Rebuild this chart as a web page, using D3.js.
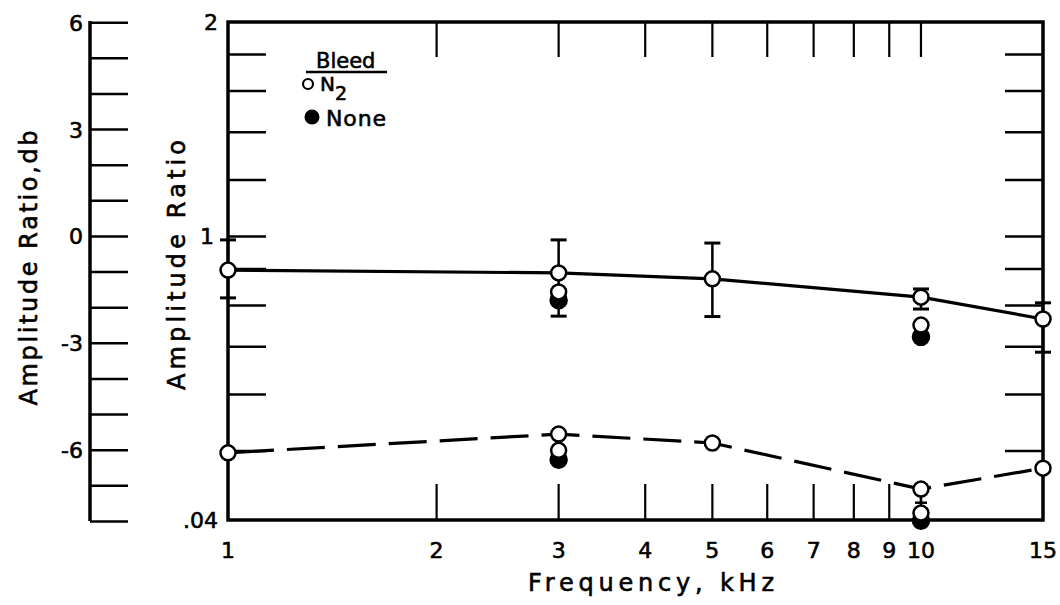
<!DOCTYPE html>
<html><head><meta charset="utf-8">
<script src="https://cdn.jsdelivr.net/npm/d3@7/dist/d3.min.js"></script>
<style>body{margin:0;background:#fff;}svg{display:block;}text{font-family:"DejaVu Sans",sans-serif;fill:#000;stroke:#000;stroke-width:0.6px;}</style>
</head><body><svg id="c" width="1060" height="605"></svg>
<script>
// ---- data ----
const freqs = [1, 3, 5, 10, 15];
const upperN2 = [0.897, 0.889, 0.872, 0.822, 0.766];
const upperErrHigh = [0.989, 0.989, 0.979, 0.844, 0.807];
const upperErrLow = [0.820, 0.773, 0.772, 0.791, 0.688];
const lowerN2 = [0.497, 0.528, 0.513, 0.442, 0.473];
const lowerErrLowFreq = [10];
const lowerErrLow = [0.423];
const extraFreqs = [3, 10];
const extraUpperN2 = [0.836, 0.751];
const extraUpperNone = [0.814, 0.723];
const extraLowerN2 = [0.501, 0.409];
const extraLowerNone = [0.486, 0.399];
const xTicks = [1, 2, 3, 4, 5, 6, 7, 8, 9, 10, 15];
const xTickLabels = ["1", "2", "3", "4", "5", "6", "7", "8", "9", "10", "15"];
const ratioTicks = [1.8, 1.6, 1.4, 1.2, 1, 0.9, 0.8, 0.7, 0.6, 0.5];
const ratioLabelValues = [2, 1, 0.4];
const ratioLabels = ["2", "1", ".04"];
const dbTicks = [6, 5, 4, 3, 2, 1, 0, -1, -2, -3, -4, -5, -6, -7, -8];
const dbLabelValues = [6, 3, 0, -3, -6];
const dbLabels = ["6", "3", "0", "-3", "-6"];

// ---- scales ----
const L = 228, R = 1043, T = 22, B = 520;
const x = d3.scaleLog().domain([1, 15]).range([L, R]);
const y = d3.scaleLog().domain([0.4, 2]).range([B, T]);
const yDb = d3.scaleLinear().domain([20 * Math.log10(0.4), 20 * Math.log10(2)]).range([B, T]);

const svg = d3.select("#c");
const g = svg.append("g");

// ---- left dB axis ----
const dbX = 90;
g.append("line").attr("x1", dbX).attr("x2", dbX).attr("y1", T - 1).attr("y2", B + 1)
  .attr("stroke", "#000").attr("stroke-width", 3.5);
g.selectAll(".dbt").data(dbTicks).enter().append("line")
  .attr("x1", dbX).attr("x2", dbX + 38)
  .attr("y1", d => yDb(d)).attr("y2", d => yDb(d))
  .attr("stroke", "#000").attr("stroke-width", 2.5);
g.selectAll(".dbl").data(dbLabelValues).enter().append("text")
  .attr("x", 83).attr("y", d => yDb(d) + 8)
  .attr("text-anchor", "end").attr("font-size", 22)
  .text((d, i) => dbLabels[i]);

// ---- axis titles ----
g.append("text").attr("transform", "translate(37,268) rotate(-90)")
  .attr("text-anchor", "middle").attr("font-size", 24)
  .attr("textLength", 275).attr("lengthAdjust", "spacing")
  .text("Amplitude Ratio,db");
g.append("text").attr("transform", "translate(185,265) rotate(-90)")
  .attr("text-anchor", "middle").attr("font-size", 24)
  .attr("textLength", 250).attr("lengthAdjust", "spacing")
  .text("Amplitude Ratio");
g.append("text").attr("x", 651).attr("y", 591)
  .attr("text-anchor", "middle").attr("font-size", 24)
  .attr("textLength", 246).attr("lengthAdjust", "spacing")
  .text("Frequency, kHz");

// ---- main frame ----
g.append("rect").attr("x", L).attr("y", T).attr("width", R - L).attr("height", B - T)
  .attr("fill", "none").attr("stroke", "#000").attr("stroke-width", 3.5);
const inner = xTicks.filter(d => d > 1 && d < 15);
g.selectAll(".tt").data(inner).enter().append("line")
  .attr("x1", d => x(d)).attr("x2", d => x(d)).attr("y1", T).attr("y2", T + 35)
  .attr("stroke", "#000").attr("stroke-width", 2.2);
g.selectAll(".bt").data(inner).enter().append("line")
  .attr("x1", d => x(d)).attr("x2", d => x(d)).attr("y1", B).attr("y2", B - 36)
  .attr("stroke", "#000").attr("stroke-width", 2.2);
g.selectAll(".lt").data(ratioTicks).enter().append("line")
  .attr("x1", L).attr("x2", L + 38).attr("y1", d => y(d)).attr("y2", d => y(d))
  .attr("stroke", "#000").attr("stroke-width", 2.5);
g.selectAll(".rt").data(ratioTicks).enter().append("line")
  .attr("x1", R).attr("x2", R - 38).attr("y1", d => y(d)).attr("y2", d => y(d))
  .attr("stroke", "#000").attr("stroke-width", 2.5);

// tick labels
g.selectAll(".xl").data(xTicks).enter().append("text")
  .attr("x", d => x(d)).attr("y", 558)
  .attr("text-anchor", "middle").attr("font-size", 22)
  .text((d, i) => xTickLabels[i]);
g.selectAll(".yl").data(ratioLabelValues).enter().append("text")
  .attr("x", (d, i) => i === 1 ? 214 : 218).attr("y", d => y(d) + 8)
  .attr("text-anchor", "end").attr("font-size", 22)
  .text((d, i) => ratioLabels[i]);

// ---- lines ----
const line = d3.line().x(d => x(d[0])).y(d => y(d[1]));
g.append("path").datum(freqs.map((f, i) => [f, upperN2[i]]))
  .attr("d", line).attr("fill", "none").attr("stroke", "#000").attr("stroke-width", 3.2);
g.append("path").datum(freqs.map((f, i) => [f, lowerN2[i]]))
  .attr("d", line).attr("fill", "none").attr("stroke", "#000").attr("stroke-width", 3.2)
  .attr("stroke-dasharray", "38,13").attr("stroke-dashoffset", -8);

// ---- error bars ----
function errBar(f, lo, hi) {
  g.append("line").attr("x1", x(f)).attr("x2", x(f)).attr("y1", y(hi)).attr("y2", y(lo))
    .attr("stroke", "#000").attr("stroke-width", 2.5);
  [lo, hi].forEach(v => g.append("line")
    .attr("x1", x(f) - 8).attr("x2", x(f) + 8).attr("y1", y(v)).attr("y2", y(v))
    .attr("stroke", "#000").attr("stroke-width", 3));
}
freqs.forEach((f, i) => errBar(f, upperErrLow[i], upperErrHigh[i]));
lowerErrLowFreq.forEach((f, i) => {
  const v = lowerN2[freqs.indexOf(f)];
  g.append("line").attr("x1", x(f)).attr("x2", x(f)).attr("y1", y(v)).attr("y2", y(lowerErrLow[i]))
    .attr("stroke", "#000").attr("stroke-width", 2.5);
  g.append("line").attr("x1", x(f) - 6).attr("x2", x(f) + 6)
    .attr("y1", y(lowerErrLow[i])).attr("y2", y(lowerErrLow[i]))
    .attr("stroke", "#000").attr("stroke-width", 2.5);
});

// ---- markers ----
function dots(fs, vals, filled) {
  g.selectAll(null).data(fs).enter().append("circle")
    .attr("cx", d => x(d)).attr("cy", (d, i) => y(vals[i]))
    .attr("r", filled ? 8 : 7.5)
    .attr("fill", filled ? "#000" : "#fff").attr("stroke", "#000").attr("stroke-width", 2.5);
}
dots(extraFreqs, extraUpperNone, true);
dots(extraFreqs, extraUpperN2, false);
dots(extraFreqs, extraLowerNone, true);
dots(extraFreqs, extraLowerN2, false);
dots(freqs, upperN2, false);
dots(freqs, lowerN2, false);

// ---- legend ----
g.append("text").attr("x", 316).attr("y", 68).attr("font-size", 21).text("Bleed");
g.append("line").attr("x1", 306).attr("x2", 387).attr("y1", 72).attr("y2", 72)
  .attr("stroke", "#000").attr("stroke-width", 2.5);
g.append("circle").attr("cx", 308).attr("cy", 84).attr("r", 5)
  .attr("fill", "#fff").attr("stroke", "#000").attr("stroke-width", 2.2);
const n2 = g.append("text").attr("x", 320).attr("y", 91).attr("font-size", 20);
n2.append("tspan").text("N");
n2.append("tspan").attr("dy", 9).attr("font-size", 19).text("2");
g.append("circle").attr("cx", 312).attr("cy", 117).attr("r", 7.5).attr("fill", "#000");
g.append("text").attr("x", 326).attr("y", 126).attr("font-size", 22)
  .attr("textLength", 60).text("None");
</script>
</body></html>
